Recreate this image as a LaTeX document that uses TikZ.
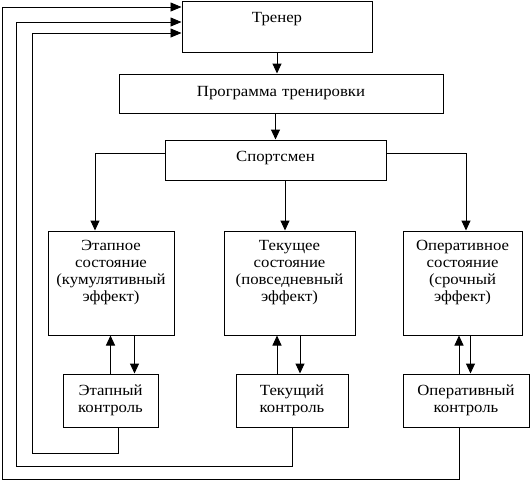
\documentclass[tikz,border=0pt]{standalone}
\usepackage{fontspec}
\setmainfont{Liberation Serif}
\newfontfamily\timesfont{Liberation Serif}[FakeStretch=1.08]
\usetikzlibrary{arrows.meta, positioning}

\begin{document}
\begin{tikzpicture}[x=1pt, y=-1pt, font=\timesfont\fontsize{15.5}{17}\selectfont]

        % Setup the styles for the boxes and the links
        \tikzset{box style/.style={draw,
                                   line width=1pt,
                                   inner sep=0pt,
                                   align=center,
                                   anchor=base},
                 link style/.style={line width=1pt,
                                    -{Triangle[length=10pt, width=9pt]}},
                 back style/.style={line width=0.8pt,
                                    -{Triangle[length=11pt, width=9pt]}}}

        \fill[white] (0, 0) rectangle (530, 480);
        \useasboundingbox (0, 0) rectangle (530, 480);

        % Draw the boxes
        \node[box style, text width=190pt, text height=21pt, text depth=30pt] at (277, 22)    (trener) {Тренер};
        \node[box style, text width=324pt, text height=22pt, text depth=17pt] at (281, 96)    (progr)  {Программа тренировки};
        \node[box style, text width=221pt, text height=21pt, text depth=19pt] at (275.5, 161) (sport)  {Спортсмен};

        \node[box style, text width=126pt, text height=19pt, text depth=85pt] at (111, 250)   (etapS)  {Этапное\\состояние\\(кумулятивный\\эффект)};
        \node[box style, text width=131pt, text height=19pt, text depth=85pt] at (289.5, 250) (tekS)   {Текущее\\состояние\\(повседневный\\эффект)};
        \node[box style, text width=119pt, text height=19pt, text depth=85pt] at (462.5, 250) (operS)  {Оперативное\\состояние\\(срочный\\эффект)};

        \node[box style, text width=95pt,  text height=21pt, text depth=32pt] at (110.5, 395) (etapK)  {Этапный\\контроль};
        \node[box style, text width=112pt, text height=21pt, text depth=32pt] at (292, 395)   (tekK)   {Текущий\\контроль};
        \node[box style, text width=126pt, text height=21pt, text depth=32pt] at (466, 395)   (operK)  {Оперативный\\контроль};

        % Corner points of the links
        \coordinate (brL) at (95, 153);
        \coordinate (brR) at (466, 153);
        \coordinate (brM) at (285, 153);
        \coordinate (back1) at (32, 453);
        \coordinate (back2) at (16, 466);
        \coordinate (back3) at (2, 479);
        \coordinate (in1) at (32, 33);
        \coordinate (in2) at (16, 22);
        \coordinate (in3) at (2, 7);

        % Connect the boxes with arrows
        \draw[link style] (trener.south) -- (trener.south |- progr.north);
        \draw[link style] (sport.north |- progr.south) -- (sport.north);
        \draw[link style] (sport.west |- brL) -- (brL) -- (etapS.north -| brL);
        \draw[link style] (sport.south -| brM) -- (tekS.north -| brM);
        \draw[link style] (sport.east |- brR) -- (brR) -- (operS.north -| brR);

        \draw[link style] (etapK.north) -- (etapK.north |- etapS.south);
        \draw[link style] ([xshift=23.5pt]etapS.south) -- ([xshift=23.5pt]etapS.south |- etapK.north);
        \draw[link style] ([xshift=-15pt]tekK.north) -- ([xshift=-15pt]tekK.north |- tekS.south);
        \draw[link style] ([xshift=8pt]tekK.north |- tekS.south) -- ([xshift=8pt]tekK.north);
        \draw[link style] ([xshift=-7pt]operK.north) -- ([xshift=-7pt]operK.north |- operS.south);
        \draw[link style] ([xshift=8pt]operS.south) -- ([xshift=8pt]operS.south |- operK.north);

        % Feedback to the coach
        \draw[back style] ([xshift=7.5pt]etapK.south) |- (back1) -- (in1) -- (in1 -| trener.west);
        \draw[back style] (tekK.south) |- (back2) -- (in2) -- (in2 -| trener.west);
        \draw[back style] ([xshift=-7pt]operK.south) |- (back3) -- (in3) -- (in3 -| trener.west);
\end{tikzpicture}
\end{document}
